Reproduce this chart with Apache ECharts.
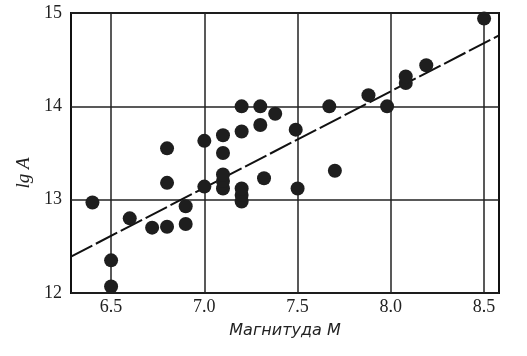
<!DOCTYPE html>
<html>
<head>
<meta charset="utf-8">
<script src="https://cdn.jsdelivr.net/npm/echarts@6/dist/echarts.min.js"></script>
<style>
  html, body { margin: 0; padding: 0; background: #fff; }
  #chart { width: 527px; height: 356px; }
</style>
</head>
<body>
<div id="chart"></div>
<script>
// magnitude M and lg A for each event
const magnitudes = [
  6.4, 6.5, 6.5, 6.6, 6.72, 6.8, 6.8, 6.8, 6.9, 6.9,
  7.0, 7.0, 7.1, 7.1, 7.1, 7.1, 7.1, 7.2, 7.2, 7.2,
  7.2, 7.2, 7.3, 7.3, 7.32, 7.38, 7.49, 7.5, 7.67, 7.7,
  7.88, 7.98, 8.08, 8.08, 8.19, 8.5
]
const lgA = [
  12.97, 12.35, 12.07, 12.8, 12.7, 12.71, 13.18, 13.55, 12.74, 12.93,
  13.14, 13.63, 13.12, 13.2, 13.27, 13.5, 13.69, 12.98, 13.05, 13.12,
  13.73, 14.0, 14.0, 13.8, 13.23, 13.92, 13.75, 13.12, 14.0, 13.31,
  14.12, 14.0, 14.25, 14.32, 14.44, 14.94
]
// fitted line end points
const fitM = [6.285, 8.58]
const fitLgA = [12.39, 14.76]

const xTicks = [6.5, 7.0, 7.5, 8.0, 8.5]

const chart = echarts.init(document.getElementById('chart'))

chart.setOption({
  animation: false,
  grid: {
    left: 71, right: 28, top: 13, bottom: 63,
    show: true,
    borderColor: '#111',
    borderWidth: 2
  },
  xAxis: {
    type: 'value',
    min: 6.285,
    max: 8.58,
    name: 'Магнитуда М',
    nameLocation: 'middle',
    nameGap: 30,
    nameTextStyle: {
      fontFamily: 'DejaVu Sans', fontStyle: 'italic', fontSize: 16, color: '#222'
    },
    axisLine: { show: false },
    axisTick: { show: false, customValues: xTicks },
    splitLine: { show: true, lineStyle: { color: '#222', width: 1.5 } },
    axisLabel: {
      customValues: xTicks,
      formatter: v => v.toFixed(1),
      fontFamily: 'Liberation Serif', fontSize: 18, color: '#222', margin: 5
    }
  },
  yAxis: {
    type: 'value',
    min: 12,
    max: 15,
    interval: 1,
    name: 'lg A',
    nameLocation: 'middle',
    nameGap: 38,
    nameRotate: 90,
    nameTextStyle: {
      fontFamily: 'Liberation Serif', fontStyle: 'italic', fontSize: 19, color: '#222',
      padding: [0, 40, 0, 0]
    },
    axisLine: { show: false },
    axisTick: { show: false },
    splitLine: { show: true, lineStyle: { color: '#222', width: 1.5 } },
    axisLabel: {
      fontFamily: 'Liberation Serif', fontSize: 18, color: '#222', margin: 9
    }
  },
  series: [
    {
      type: 'line',
      data: fitM.map((m, i) => [m, fitLgA[i]]),
      symbol: 'none',
      lineStyle: { color: '#111', width: 2, type: [24, 4] },
      z: 3
    },
    {
      type: 'scatter',
      data: magnitudes.map((m, i) => [m, lgA[i]]),
      symbolSize: 14,
      itemStyle: { color: '#1e1e1e', opacity: 1 },
      z: 4
    }
  ]
})
</script>
</body>
</html>
